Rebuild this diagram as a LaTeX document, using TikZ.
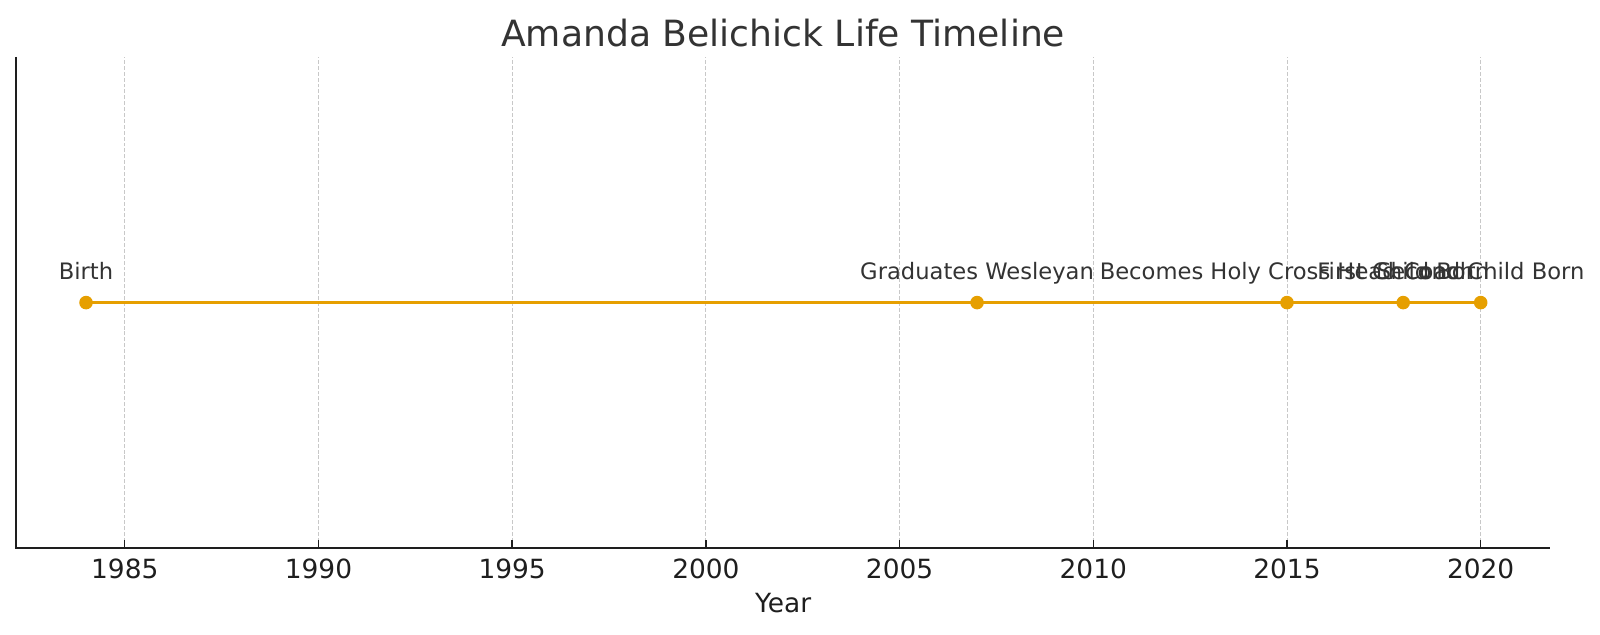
\documentclass[tikz,border=0pt]{standalone}
\usepackage{fontspec}
\setmainfont{DejaVu Sans}
\begin{document}
\begin{tikzpicture}
    \definecolor{myline}{RGB}{230,159,0}
    \definecolor{mytext}{RGB}{51,51,51}
    \definecolor{mygrid}{RGB}{200,200,200}
    \definecolor{myaxis}{RGB}{30,30,30}
    \useasboundingbox (0,0) rectangle (40,15.875);

    \tikzset{
        gridline/.style={mygrid, line width=0.7pt, dash pattern=on 2.8pt off 1.4pt},
        ticklabel/.style={anchor=base, text=myaxis, inner sep=0pt,
            font=\fontsize{18.8}{20}\selectfont},
        evlabel/.style={anchor=base, text=mytext, inner sep=0pt,
            font=\fontsize{16.1}{18}\selectfont},
        evdot/.style={circle, fill=myline, inner sep=0pt, minimum size=0.34cm}
    }

    \begin{scope}[x=0.9685cm, xshift=0.4075cm]
        % grid, ticks and year labels
        \foreach \t in {1985,1990,...,2020} {
            \draw[gridline] ({\t-1982.2},2.175) -- ({\t-1982.2},14.45);
            \draw[myaxis, line width=1pt] ({\t-1982.2},2.175) -- ({\t-1982.2},2.375);
            \node[ticklabel] (tk\t) at ({\t-1982.2},1.4175) {\t};
        }

        % spines
        \draw[myaxis, line width=1.3pt] (0,14.45) -- (0,2.175) -- (39.6,2.175);

        % events
        \foreach \yr/\nm in {1984/birth,2007/grad,2015/coach,2018/first,2020/second}
            \coordinate (p-\nm) at ({\yr-1982.2},8.31);
        \draw[myline, line width=2.5pt] (p-birth) -- (p-grad) -- (p-coach) -- (p-first) -- (p-second);
        \foreach \nm/\txt in {birth/Birth, grad/Graduates Wesleyan,
                coach/Becomes Holy Cross Head Coach, first/First Child Born,
                second/Second Child Born} {
            \node[evdot] (d-\nm) at (p-\nm) {};
            \node[evlabel] (l-\nm) at ([yshift=0.565cm]p-\nm) {\txt};
        }
    \end{scope}

    \node[anchor=base, text=mytext, inner sep=0pt, font=\fontsize{25.7}{30}\selectfont]
        (title) at (19.58,14.7) {Amanda Belichick Life Timeline};
    \node[anchor=base, text=myaxis, inner sep=0pt, font=\fontsize{18.8}{20}\selectfont]
        (xlabel) at (19.58,0.55) {Year};
\end{tikzpicture}
\end{document}
